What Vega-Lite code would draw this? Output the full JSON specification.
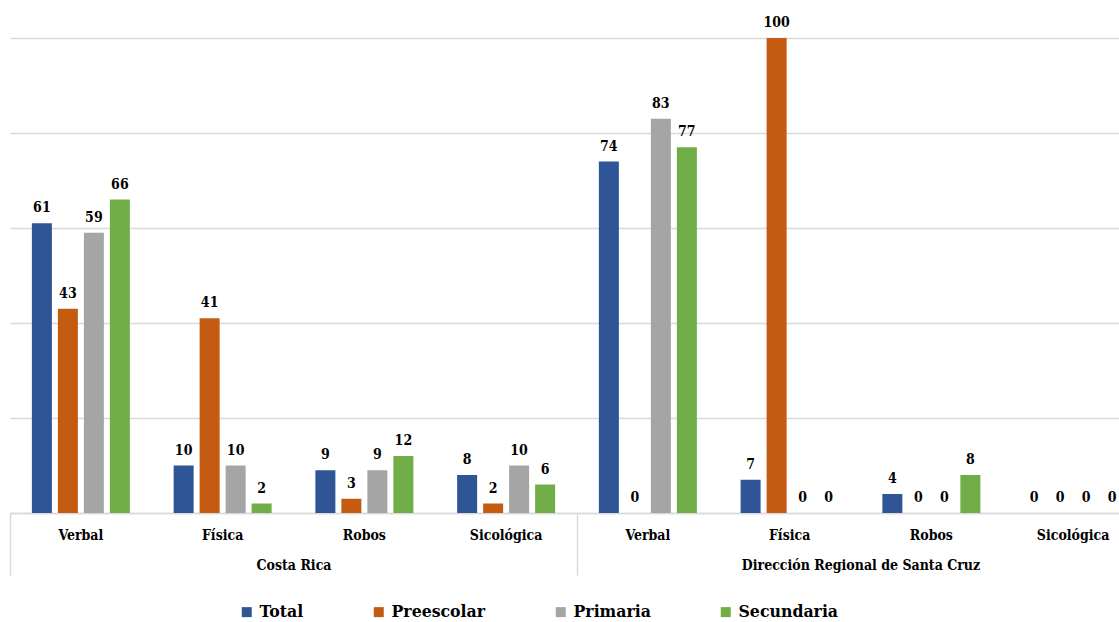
{
  "$schema": "https://vega.github.io/schema/vega-lite/v6.json",
  "width": 1109,
  "height": 475,
  "autosize": {"type": "none"},
  "padding": {"left": 10, "top": 38, "right": 0, "bottom": 109},
  "config": {
    "view": {"stroke": null}
  },
  "data": {
    "values": [
      {"region": "Costa Rica", "key": "CR|Verbal", "serie": "Total", "value": 61},
      {"region": "Costa Rica", "key": "CR|Verbal", "serie": "Preescolar", "value": 43},
      {"region": "Costa Rica", "key": "CR|Verbal", "serie": "Primaria", "value": 59},
      {"region": "Costa Rica", "key": "CR|Verbal", "serie": "Secundaria", "value": 66},
      {"region": "Costa Rica", "key": "CR|Física", "serie": "Total", "value": 10},
      {"region": "Costa Rica", "key": "CR|Física", "serie": "Preescolar", "value": 41},
      {"region": "Costa Rica", "key": "CR|Física", "serie": "Primaria", "value": 10},
      {"region": "Costa Rica", "key": "CR|Física", "serie": "Secundaria", "value": 2},
      {"region": "Costa Rica", "key": "CR|Robos", "serie": "Total", "value": 9},
      {"region": "Costa Rica", "key": "CR|Robos", "serie": "Preescolar", "value": 3},
      {"region": "Costa Rica", "key": "CR|Robos", "serie": "Primaria", "value": 9},
      {"region": "Costa Rica", "key": "CR|Robos", "serie": "Secundaria", "value": 12},
      {"region": "Costa Rica", "key": "CR|Sicológica", "serie": "Total", "value": 8},
      {"region": "Costa Rica", "key": "CR|Sicológica", "serie": "Preescolar", "value": 2},
      {"region": "Costa Rica", "key": "CR|Sicológica", "serie": "Primaria", "value": 10},
      {"region": "Costa Rica", "key": "CR|Sicológica", "serie": "Secundaria", "value": 6},
      {"region": "Dirección Regional de Santa Cruz", "key": "SC|Verbal", "serie": "Total", "value": 74},
      {"region": "Dirección Regional de Santa Cruz", "key": "SC|Verbal", "serie": "Preescolar", "value": 0},
      {"region": "Dirección Regional de Santa Cruz", "key": "SC|Verbal", "serie": "Primaria", "value": 83},
      {"region": "Dirección Regional de Santa Cruz", "key": "SC|Verbal", "serie": "Secundaria", "value": 77},
      {"region": "Dirección Regional de Santa Cruz", "key": "SC|Física", "serie": "Total", "value": 7},
      {"region": "Dirección Regional de Santa Cruz", "key": "SC|Física", "serie": "Preescolar", "value": 100},
      {"region": "Dirección Regional de Santa Cruz", "key": "SC|Física", "serie": "Primaria", "value": 0},
      {"region": "Dirección Regional de Santa Cruz", "key": "SC|Física", "serie": "Secundaria", "value": 0},
      {"region": "Dirección Regional de Santa Cruz", "key": "SC|Robos", "serie": "Total", "value": 4},
      {"region": "Dirección Regional de Santa Cruz", "key": "SC|Robos", "serie": "Preescolar", "value": 0},
      {"region": "Dirección Regional de Santa Cruz", "key": "SC|Robos", "serie": "Primaria", "value": 0},
      {"region": "Dirección Regional de Santa Cruz", "key": "SC|Robos", "serie": "Secundaria", "value": 8},
      {"region": "Dirección Regional de Santa Cruz", "key": "SC|Sicológica", "serie": "Total", "value": 0},
      {"region": "Dirección Regional de Santa Cruz", "key": "SC|Sicológica", "serie": "Preescolar", "value": 0},
      {"region": "Dirección Regional de Santa Cruz", "key": "SC|Sicológica", "serie": "Primaria", "value": 0},
      {"region": "Dirección Regional de Santa Cruz", "key": "SC|Sicológica", "serie": "Secundaria", "value": 0}
    ]
  },
  "layer": [
    {
      "encoding": {
        "x": {
          "field": "key",
          "type": "nominal",
          "sort": ["CR|Verbal", "CR|Física", "CR|Robos", "CR|Sicológica", "SC|Verbal", "SC|Física", "SC|Robos", "SC|Sicológica"],
          "scale": {"range": [0, 1134], "paddingInner": 0.2663, "paddingOuter": 0.1332},
          "axis": {
            "title": null,
            "orient": "bottom",
            "labelAngle": 0,
            "ticks": false,
            "labelPadding": 15,
            "labelExpr": "split(datum.label, '|')[1]",
            "labelFont": "DejaVu Serif Condensed",
            "labelFontWeight": "bold",
            "labelFontSize": 14,
            "labelColor": "#000000",
            "domainColor": "#d9d9d9",
            "domainWidth": 1.5
          }
        },
        "xOffset": {
          "field": "serie",
          "type": "nominal",
          "sort": ["Total", "Preescolar", "Primaria", "Secundaria"],
          "scale": {"paddingInner": 0.2308, "paddingOuter": 0.1154}
        },
        "y": {
          "field": "value",
          "type": "quantitative",
          "scale": {"domain": [0, 100], "nice": false},
          "axis": {
            "title": null,
            "values": [0, 20, 40, 60, 80, 100],
            "labels": false,
            "ticks": false,
            "domain": false,
            "grid": true,
            "gridColor": "#d9d9d9",
            "gridWidth": 1.5
          }
        }
      },
      "layer": [
        {
          "mark": {"type": "bar"},
          "encoding": {
            "color": {
              "field": "serie",
              "type": "nominal",
              "sort": ["Total", "Preescolar", "Primaria", "Secundaria"],
              "scale": {
                "domain": ["Total", "Preescolar", "Primaria", "Secundaria"],
                "range": ["#2F5597", "#C55A11", "#A5A5A5", "#70AD47"]
              },
              "legend": {
                "title": null,
                "orient": "none",
                "direction": "horizontal",
                "legendX": 228,
                "legendY": 565,
                "symbolType": "square",
                "symbolSize": 100,
                "symbolStrokeWidth": 0,
                "labelFont": "DejaVu Serif Condensed",
                "labelFontWeight": "bold",
                "labelFontSize": 17.5,
                "labelColor": "#000000",
                "columnPadding": 66,
                "labelOffset": 4
              }
            }
          }
        },
        {
          "mark": {
            "type": "text",
            "baseline": "bottom",
            "dy": -8,
            "font": "DejaVu Serif Condensed",
            "fontWeight": "bold",
            "fontSize": 14,
            "color": "#000000"
          },
          "encoding": {"text": {"field": "value", "type": "quantitative"}}
        }
      ]
    },
    {
      "mark": {"type": "text", "text": ""},
      "encoding": {
        "x": {
          "field": "region",
          "type": "nominal",
          "scale": {"range": [0, 1134], "paddingInner": 0, "paddingOuter": 0},
          "axis": {
            "title": null,
            "orient": "bottom",
            "labelAngle": 0,
            "domain": false,
            "ticks": true,
            "tickBand": "extent",
            "tickSize": 62,
            "tickColor": "#d9d9d9",
            "tickWidth": 1.5,
            "labelPadding": -17,
            "labelLimit": 1000,
            "labelFont": "DejaVu Serif Condensed",
            "labelFontWeight": "bold",
            "labelFontSize": 14,
            "labelColor": "#000000"
          }
        }
      }
    }
  ],
  "resolve": {"scale": {"x": "independent"}}
}
